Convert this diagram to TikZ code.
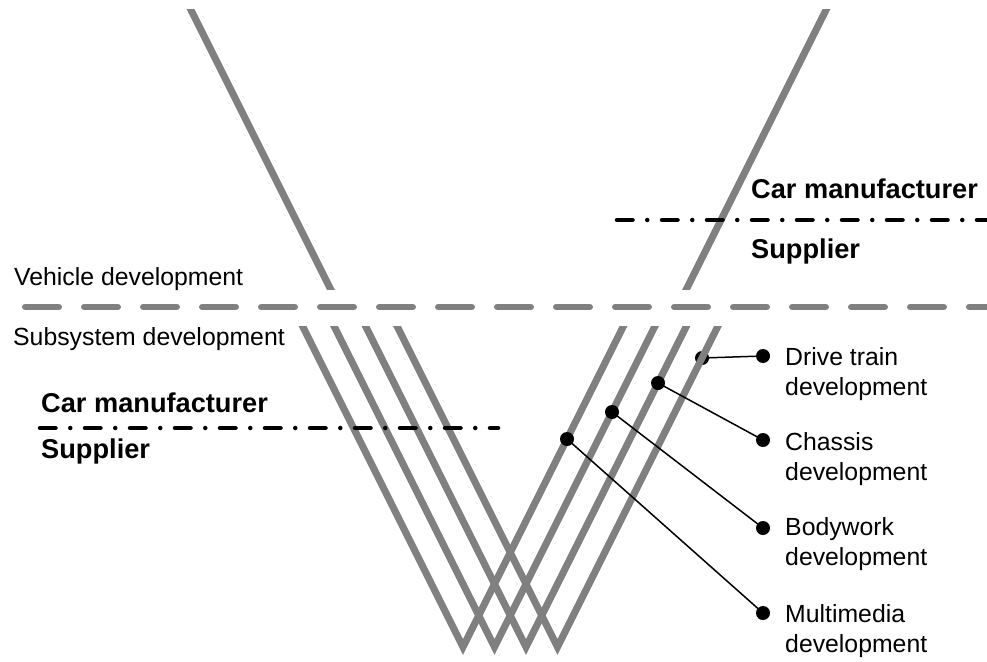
\documentclass[tikz,border=0pt]{standalone}
\usepackage{fontspec}
\setmainfont{Liberation Sans}
\usetikzlibrary{calc}
\definecolor{vgray}{RGB}{128,128,128}
\begin{document}
\begin{tikzpicture}[x=1pt,y=-1pt,
  vline/.style={draw=vgray,line width=7pt,line join=miter},
  levelline/.style={draw=vgray,line width=6.5pt,line cap=round,dash pattern=on 33.5pt off 25.5pt},
  boundary/.style={draw=black,line width=4.5pt,line cap=round,dash pattern=on 15.5pt off 14.75pt on 0pt off 14.75pt},
  lvl/.style={font=\fontsize{24.8}{30}\selectfont,inner sep=0pt,anchor=base west},
  party/.style={font=\fontsize{27.2}{32}\selectfont\bfseries,inner sep=0pt,anchor=base west},
  arealabel/.style={lvl,align=left},
  leader/.style={draw=black,line width=1.5pt},
  tipdot/.style={fill=black}]
\useasboundingbox (0,0) rectangle (987,661);

% vehicle-level V (upper arms, cut at the level line)
\coordinate (vehLtop) at (186,0);
\coordinate (vehLbot) at (336,300);
\coordinate (vehRtop) at (831,0);
\coordinate (vehRbot) at (681,300);
\begin{scope}
  \clip (0,10) rectangle (987,289);
  \draw[vline] (vehLtop) -- (vehLbot);
  \draw[vline] (vehRtop) -- (vehRbot);
\end{scope}

% level separator
\coordinate (levA) at (25.25,307);
\coordinate (levB) at (995,307);
\draw[levelline] (levA) -- (levB);

% drive train pick-up point sits beneath its V arm
\coordinate (driveOn) at (702,358);
\coordinate (driveEnd) at (763,356);
\draw[leader] (driveOn) -- (driveEnd);
\fill[tipdot] (driveOn) circle (7);

% four subsystem Vs
\foreach \i in {0,1,2,3}{
  \pgfmathsetmacro{\bx}{463+31.5*\i}
  \coordinate (sL\i) at (\bx-164,319);
  \coordinate (sB\i) at (\bx,647);
  \coordinate (sR\i) at (\bx+164,319);
}
\begin{scope}
  \clip (0,326) rectangle (987,661);
  \foreach \i in {0,1,2,3}{
    \draw[vline] (sL\i) -- (sB\i) -- (sR\i);
  }
\end{scope}

% organisational boundaries
\coordinate (bL1) at (40,428);
\coordinate (bL2) at (498,428);
\coordinate (bR1) at (617,220);
\coordinate (bR2) at (995,220);
\draw[boundary] (bL1) -- (bL2);
\draw[boundary] (bR1) -- (bR2);

% leaders to the subsystem labels
\coordinate (chassisOn) at (658,383);
\coordinate (chassisEnd) at (763,440);
\coordinate (bodyOn) at (612,412);
\coordinate (bodyEnd) at (763,528);
\coordinate (mediaOn) at (567,439);
\coordinate (mediaEnd) at (763,613);
\draw[leader] (chassisOn) -- (chassisEnd);
\draw[leader] (bodyOn) -- (bodyEnd);
\draw[leader] (mediaOn) -- (mediaEnd);
\foreach \p in {driveEnd,chassisOn,chassisEnd,bodyOn,bodyEnd,mediaOn,mediaEnd}
  \fill[tipdot] (\p) circle (7);

% texts (two-line labels are anchored on their last baseline)
\node[lvl] (veh) at (14,285) {Vehicle development};
\node[lvl] (sub) at (13,345) {Subsystem development};
\node[party] (cmL) at (41,412) {Car manufacturer};
\node[party] (supL) at (41,458) {Supplier};
\node[party] (cmR) at (751,198) {Car manufacturer};
\node[party] (supR) at (751,258) {Supplier};
\node[arealabel] (drive) at (785,395) {Drive train\\development};
\node[arealabel] (chassis) at (785,480) {Chassis\\development};
\node[arealabel] (body) at (785,565) {Bodywork\\development};
\node[arealabel] (media) at (785,652) {Multimedia\\development};
\end{tikzpicture}
\end{document}
